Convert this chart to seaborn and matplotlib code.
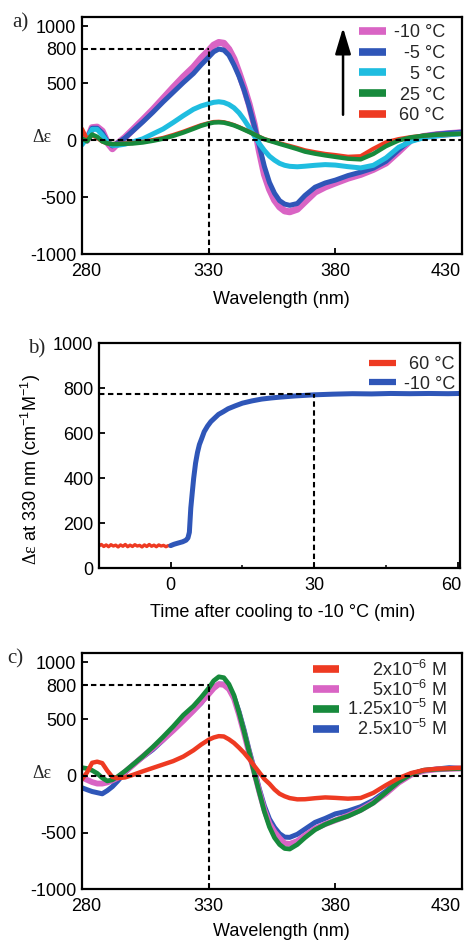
import matplotlib
matplotlib.use("Agg")
import matplotlib.pyplot as plt
import seaborn as sns
from matplotlib.transforms import ScaledTranslation

# ---------------------------------------------------------------- data
WAVELENGTH = [280, 282, 284, 286, 288, 290, 292, 294, 297, 300, 304, 308, 312,
              316, 320, 324, 327, 330, 332, 334, 336, 338, 340, 342, 344, 346,
              348, 350, 352, 354, 356, 358, 360, 362, 365, 368, 372, 376, 380,
              385, 390, 395, 400, 405, 410, 415, 420, 425, 430]

# (a) CD spectra at different temperatures
CD_M10C = [20, 0, 110, 115, 80, -20, -75, -30, 25, 90, 178, 268, 365,
           462, 555, 640, 718, 785, 834, 857, 850, 797, 712, 590, 460, 315,
           140, -95, -300, -430, -525, -585, -620, -628, -605, -540, -455, -410, -375,
           -333, -300, -256, -200, -100, 5, 33, 48, 58, 66]
CD_M5C = [-10, 20, 105, 105, 65, -10, -50, -25, 20, 80, 160, 245, 335,
          420, 505, 585, 660, 728, 775, 799, 790, 745, 660, 560, 440, 295,
          130, -50, -230, -370, -465, -530, -560, -571, -555, -485, -412, -375, -350,
          -310, -280, -245, -185, -85, 8, 38, 53, 63, 71]
CD_5C = [-40, 20, 95, 95, 45, -15, -45, -45, -35, -15, 12, 55, 98,
         155, 215, 271, 300, 320, 332, 337, 331, 313, 284, 240, 180, 112,
         38, -30, -90, -140, -175, -203, -220, -229, -233, -228, -220, -214, -218,
         -232, -243, -220, -155, -62, -10, 23, 37, 48, 57]
CD_25C = [15, -10, 50, 30, -10, -28, -34, -34, -31, -29, -20, -5, 13,
          38, 67, 100, 126, 146, 155, 157, 154, 143, 130, 112, 92, 72,
          50, 28, 8, -5, -18, -32, -45, -58, -78, -100, -118, -133, -146,
          -162, -168, -120, -52, -2, 25, 40, 48, 53, 57]
CD_60C = [100, 10, 45, 20, -12, -28, -33, -32, -28, -25, -14, 2, 20,
          46, 75, 108, 132, 150, 160, 162, 158, 147, 133, 115, 95, 74,
          52, 30, 10, -3, -15, -27, -38, -50, -68, -88, -105, -120, -130,
          -145, -140, -75, -18, 10, 28, 40, 48, 53, 57]
TEMP_LABELS = ["-10 °C", "-5 °C", "5 °C", "25 °C", "60 °C"]

# (b) time course of the 330 nm signal
TIME_60C = [-15, -14.5, -14, -13.5, -13, -12.5, -12, -11.5, -11, -10.5, -10,
            -9.5, -9, -8.5, -8, -7.5, -7, -6.5, -6, -5.5, -5, -4.5, -4, -3.5,
            -3, -2.5, -2, -1.5, -1, -0.5, 0]
DE330_60C = [100, 106, 97, 104, 96, 105, 99, 103, 95, 104, 98, 106, 96,
             103, 97, 105, 99, 102, 95, 104, 97, 106, 98, 103, 96, 104,
             99, 102, 96, 101, 100]
TIME_M10C = [0, 0.7, 1.5, 2.5, 3.2, 3.6, 3.9, 4.2, 4.5, 4.8, 5.2, 5.6, 6.0,
             6.5, 7.0, 7.7, 8.4, 9.2, 10, 11, 12, 13.5, 15, 17, 19, 21, 23,
             26, 30, 34, 38, 42, 46, 50, 54, 58, 60.5]
DE330_M10C = [101, 107, 112, 118, 125, 135, 160, 268, 335, 400, 468, 515, 550,
              578, 607, 632, 652, 668, 684, 696, 709, 722, 734, 744, 752, 757, 761,
              766, 771, 774, 776, 775, 777, 776, 777, 776, 777]
TIME_LABELS = ["60 °C", "-10 °C"]

# (c) CD spectra at different concentrations
CD_2E6 = [-30, 30, 115, 125, 112, 45, -10, -20, -14, 8, 40, 70, 100,
          130, 170, 225, 275, 318, 338, 350, 347, 322, 290, 248, 202, 148,
          88, 30, -28, -70, -120, -158, -180, -196, -207, -206, -197, -190, -194,
          -201, -195, -150, -82, -20, 25, 51, 62, 67, 71]
CD_5E6 = [-15, -35, -55, -68, -68, -58, -40, -18, 35, 92, 170, 245, 320,
          400, 485, 575, 648, 720, 772, 808, 802, 765, 683, 540, 375, 200,
          35, -140, -300, -420, -495, -550, -595, -600, -575, -525, -465, -425, -392,
          -350, -300, -235, -155, -60, 10, 45, 57, 62, 65]
CD_125E5 = [72, 65, 48, 22, -18, -45, -35, -8, 42, 97, 172, 255, 343,
            435, 535, 615, 690, 772, 838, 873, 865, 808, 710, 558, 390, 210,
            25, -145, -315, -450, -545, -605, -640, -645, -605, -545, -475, -428, -392,
            -355, -305, -240, -145, -52, 16, 50, 58, 62, 65]
CD_25E5 = [-105, -122, -138, -148, -158, -130, -95, -48, 28, 95, 165, 232, 315,
           405, 490, 575, 640, 729, 778, 808, 808, 770, 695, 565, 405, 225,
           60, -115, -265, -380, -455, -510, -540, -542, -515, -470, -410, -375, -335,
           -310, -272, -215, -135, -40, 18, 45, 60, 72, 65]
CONC_LABELS = ["2x10$^{-6}$ M", "5x10$^{-6}$ M", "1.25x10$^{-5}$ M",
               "2.5x10$^{-5}$ M"]

REF_WL = 330       # wavelength marker (nm)
REF_DE = 800       # reference Δε in the spectra
REF_TIME = 30      # time marker (min)
REF_PLATEAU = 775  # plateau level in the time course

# ---------------------------------------------------------------- colours
PINK = "#d964c4"
BLUE = "#2f56b8"
CYAN = "#1fbde0"
GREEN = "#178a3c"
RED = "#ee3a22"

# ---------------------------------------------------------------- style
FS = 13
sns.set_theme(style="ticks")
plt.rcParams.update({
    "font.family": ["Liberation Sans", "DejaVu Sans"],
    "font.size": FS,
    "axes.unicode_minus": False,
    "mathtext.fontset": "custom",
    "mathtext.rm": "Liberation Serif",
    "mathtext.it": "Liberation Serif:italic",
    "mathtext.default": "regular",
    "axes.linewidth": 1.6,
    "axes.edgecolor": "black",
    "axes.labelcolor": "black",
    "axes.labelsize": FS,
    "xtick.color": "black",
    "ytick.color": "black",
    "xtick.labelsize": FS,
    "ytick.labelsize": FS,
    "xtick.direction": "in",
    "ytick.direction": "in",
    "xtick.major.size": 4,
    "ytick.major.size": 4,
    "xtick.minor.size": 2.5,
    "xtick.major.width": 1.3,
    "ytick.major.width": 1.3,
    "xtick.minor.width": 1.1,
    "xtick.major.pad": 6,
    "ytick.major.pad": 4,
})
SERIF = ["Liberation Serif", "DejaVu Serif"]
DASH = dict(color="black", lw=1.5, ls=(0, (2.6, 1.7)), zorder=5)

fig = plt.figure(figsize=(4.65, 9.4), dpi=100)
ax_a = fig.add_axes([0.1763, 0.7295, 0.8172, 0.2524])
ax_b = fig.add_axes([0.2129, 0.3954, 0.7763, 0.2394])
ax_c = fig.add_axes([0.1763, 0.0539, 0.8172, 0.2511])


def shift_label(label, dx_px):
    label.set_transform(label.get_transform()
                        + ScaledTranslation(dx_px / 100, 0, fig.dpi_scale_trans))


def draw_curve(ax, x, y, color, lw):
    sns.lineplot(x=x, y=y, ax=ax, color=color, lw=lw,
                 solid_capstyle="round", solid_joinstyle="round")
    return ax.lines[-1]


def spectra_axes(ax, label_y):
    ax.set_xlim(280, 430)
    ax.set_ylim(-1000, 1080)
    ax.set_xticks([280, 330, 380, 430])
    ax.set_yticks([-1000, -500, 0, 500, 800, 1000])
    ax.axhline(0, **DASH)
    ax.hlines(REF_DE, 280, REF_WL, **DASH)
    ax.vlines(REF_WL, -1000, REF_DE, **DASH)
    ax.set_xlabel("Wavelength (nm)")
    ax.xaxis.set_label_coords(0.524, label_y)
    ax.set_ylabel("")
    # pull the outer wavelength labels inside the frame
    labels = ax.get_xticklabels()
    shift_label(labels[0], 4)
    shift_label(labels[-1], -16)


def make_legend(ax, handles, labels, anchor, lw, spacing):
    leg = ax.legend(handles, labels, loc="upper right", bbox_to_anchor=anchor,
                    frameon=False, borderpad=0, borderaxespad=0,
                    handlelength=1.45, handletextpad=0.45,
                    labelspacing=spacing, fontsize=FS)
    for line in leg.get_lines():
        line.set_linewidth(lw)
        line.set_solid_capstyle("butt")
    return leg


# ---------------------------------------------------------------- (a)
h_m10 = draw_curve(ax_a, WAVELENGTH, CD_M10C, PINK, 5.0)
h_m5 = draw_curve(ax_a, WAVELENGTH, CD_M5C, BLUE, 3.6)
h_5 = draw_curve(ax_a, WAVELENGTH, CD_5C, CYAN, 3.6)
h_60 = draw_curve(ax_a, WAVELENGTH, CD_60C, RED, 3.0)
h_25 = draw_curve(ax_a, WAVELENGTH, CD_25C, GREEN, 3.2)
spectra_axes(ax_a, -0.155)
leg_a = make_legend(ax_a, [h_m10, h_m5, h_5, h_25, h_60], TEMP_LABELS,
                    (0.955, 0.970), 5.5, 0.21)
ax_a.annotate("", xy=(0.687, 0.955), xytext=(0.687, 0.588),
              xycoords="axes fraction", textcoords="axes fraction",
              arrowprops=dict(arrowstyle="-|>,head_length=0.8,head_width=0.24",
                              mutation_scale=20, lw=1.8, color="black",
                              shrinkA=0, shrinkB=0))

# ---------------------------------------------------------------- (b)
h_b60 = draw_curve(ax_b, TIME_60C, DE330_60C, RED, 2.4)
h_bm10 = draw_curve(ax_b, TIME_M10C, DE330_M10C, BLUE, 3.6)
ax_b.set_xlim(-15, 60.5)
ax_b.set_ylim(0, 1000)
ax_b.set_xticks([0, 30, 60])
ax_b.set_xticks([15, 45], minor=True)
ax_b.set_yticks([0, 200, 400, 600, 800, 1000])
ax_b.set_yticklabels(["0", "200", "400", "600", "800", "1000"])
ax_b.hlines(REF_PLATEAU, -15, REF_TIME, **DASH)
ax_b.vlines(REF_TIME, 0, REF_PLATEAU, **DASH)
ax_b.set_xlabel("Time after cooling to -10 °C (min)")
ax_b.xaxis.set_label_coords(0.51, -0.16)
ax_b.set_ylabel(r"$\mathrm{\Delta\varepsilon}$ at 330 nm (cm$^{-1}$M$^{-1}$)")
ax_b.yaxis.set_label_coords(-0.155, 0.44)
shift_label(ax_b.get_xticklabels()[-1], -6)
leg_b = make_legend(ax_b, [h_b60, h_bm10], TIME_LABELS, (0.986, 0.942), 4.5, 0.12)

# ---------------------------------------------------------------- (c)
h_c25 = draw_curve(ax_c, WAVELENGTH, CD_25E5, BLUE, 3.6)
h_c5 = draw_curve(ax_c, WAVELENGTH, CD_5E6, PINK, 4.2)
h_c125 = draw_curve(ax_c, WAVELENGTH, CD_125E5, GREEN, 3.4)
h_c2 = draw_curve(ax_c, WAVELENGTH, CD_2E6, RED, 3.2)
spectra_axes(ax_c, -0.143)
leg_c = make_legend(ax_c, [h_c2, h_c5, h_c125, h_c25], CONC_LABELS,
                    (0.96, 0.973), 5.5, -0.02)

# ---------------------------------------------------------------- labels
fig.text(20 / 465, 1 - 23 / 940, "a)", family=SERIF, fontsize=15,
         ha="center", va="center")
fig.text(37 / 465, 1 - 349 / 940, "b)", family=SERIF, fontsize=15,
         ha="center", va="center")
fig.text(15 / 465, 1 - 659 / 940, "c)", family=SERIF, fontsize=15,
         ha="center", va="center")
fig.text(42 / 465, 1 - 137 / 940, "Δε", family=SERIF, fontsize=13,
         ha="center", va="center")
fig.text(42 / 465, 1 - 773 / 940, "Δε", family=SERIF, fontsize=13,
         ha="center", va="center")

# right-align the legend labels against each other
fig.canvas.draw()
renderer = fig.canvas.get_renderer()
for leg in (leg_a, leg_b, leg_c):
    texts = leg.get_texts()
    widths = [t.get_window_extent(renderer).width for t in texts]
    wmax = max(widths)
    for t, w in zip(texts, widths):
        t.set_x(wmax - w)

fig.savefig("out.png", dpi=100)
